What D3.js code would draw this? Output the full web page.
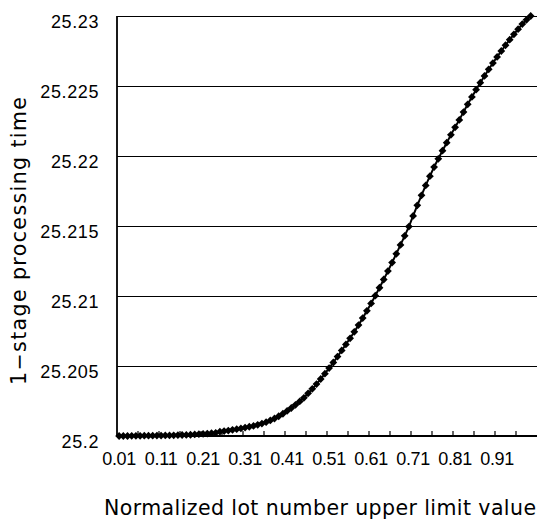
<!DOCTYPE html>
<html>
<head>
<meta charset="utf-8">
<script src="https://cdn.jsdelivr.net/npm/d3@7"></script>
<style>
  html, body { margin: 0; padding: 0; background: #fff; }
  svg { display: block; }
</style>
</head>
<body>
<script>
// Category axis: normalized lot number upper limit, 0.01 .. 1.00
const categories = [
  "0.01","0.02","0.03","0.04","0.05","0.06","0.07","0.08","0.09","0.10",
  "0.11","0.12","0.13","0.14","0.15","0.16","0.17","0.18","0.19","0.20",
  "0.21","0.22","0.23","0.24","0.25","0.26","0.27","0.28","0.29","0.30",
  "0.31","0.32","0.33","0.34","0.35","0.36","0.37","0.38","0.39","0.40",
  "0.41","0.42","0.43","0.44","0.45","0.46","0.47","0.48","0.49","0.50",
  "0.51","0.52","0.53","0.54","0.55","0.56","0.57","0.58","0.59","0.60",
  "0.61","0.62","0.63","0.64","0.65","0.66","0.67","0.68","0.69","0.70",
  "0.71","0.72","0.73","0.74","0.75","0.76","0.77","0.78","0.79","0.80",
  "0.81","0.82","0.83","0.84","0.85","0.86","0.87","0.88","0.89","0.90",
  "0.91","0.92","0.93","0.94","0.95","0.96","0.97","0.98","0.99","1.00"
];

// 1-stage processing time for each upper limit value (0.01 .. 0.99)
const processingTime = [
  25.20000, 25.20000, 25.20000, 25.20001, 25.20001, 25.20001, 25.20002, 25.20002, 25.20002, 25.20003,
  25.20003, 25.20004, 25.20004, 25.20005, 25.20006, 25.20007, 25.20008, 25.20009, 25.20011, 25.20013,
  25.20015, 25.20017, 25.20020, 25.20023, 25.20031, 25.20035, 25.20039, 25.20044, 25.20049, 25.20054,
  25.20060, 25.20066, 25.20072, 25.20080, 25.20089, 25.20099, 25.20111, 25.20125, 25.20141, 25.20159,
  25.20179, 25.20200, 25.20223, 25.20247, 25.20273, 25.20305, 25.20337, 25.20371, 25.20407, 25.20445,
  25.20485, 25.20525, 25.20567, 25.20611, 25.20654, 25.20698, 25.20744, 25.20792, 25.20842, 25.20894,
  25.20947, 25.21002, 25.21059, 25.21118, 25.21178, 25.21239, 25.21301, 25.21365, 25.21430, 25.21496,
  25.21572, 25.21648, 25.21719, 25.21790, 25.21856, 25.21921, 25.21980, 25.22038, 25.22095, 25.22151,
  25.22205, 25.22258, 25.22314, 25.22369, 25.22422, 25.22474, 25.22524, 25.22572, 25.22619, 25.22664,
  25.22708, 25.22750, 25.22791, 25.22831, 25.22869, 25.22906, 25.22942, 25.22973, 25.23000
];

const yTicks = [25.2, 25.205, 25.21, 25.215, 25.22, 25.225, 25.23];
const yTickLabels = ["25.2", "25.205", "25.21", "25.215", "25.22", "25.225", "25.23"];
const xTickLabels = ["0.01", "0.11", "0.21", "0.31", "0.41", "0.51", "0.61", "0.71", "0.81", "0.91"];

const xTitle = "Normalized lot number upper limit value";
const yTitle = "1\u2212stage processing time";

const W = 538, H = 524;
const plot = { left: 117, right: 537, top: 16, bottom: 436 };
const numFont = "'Liberation Sans', Arial, sans-serif";
const titleFont = "'DejaVu Sans', Verdana, sans-serif";

const svg = d3.select("body").append("svg")
  .attr("width", W).attr("height", H);

const x = d3.scaleBand().domain(categories).range([plot.left, plot.right]);
const y = d3.scaleLinear().domain([25.2, 25.23]).range([plot.bottom, plot.top]);
const cx = d => x(d) + x.bandwidth() / 2;

// horizontal gridlines
svg.append("g").selectAll("line")
  .data(yTicks.slice(1))
  .join("line")
  .attr("x1", plot.left).attr("x2", plot.right)
  .attr("y1", d => Math.round(y(d)) + 0.5).attr("y2", d => Math.round(y(d)) + 0.5)
  .attr("stroke", "#000").attr("stroke-width", 1.2);

// value axis labels
const yAxis = svg.append("g")
  .attr("transform", `translate(${plot.left},0)`)
  .call(d3.axisLeft(y).tickValues(yTicks)
    .tickFormat((d, i) => yTickLabels[i])
    .tickSize(0).tickPadding(18));
yAxis.select(".domain").remove();
yAxis.selectAll("text")
  .attr("dy", "0.62em")
  .style("font-family", numFont).style("font-size", "18px")
  .style("letter-spacing", "0.6px").style("fill", "#000");

// category axis labels (every 10th category)
const xAxis = svg.append("g")
  .attr("transform", `translate(0,${plot.bottom})`)
  .call(d3.axisBottom(x).tickValues(xTickLabels)
    .tickSize(0).tickPadding(0));
xAxis.select(".domain").remove();
xAxis.selectAll("text")
  .attr("y", 29).attr("dy", 0)
  .style("font-family", numFont).style("font-size", "18px")
  .style("letter-spacing", "-0.3px").style("fill", "#000");

// category tick marks every 5 categories, inside the plot
svg.append("g").selectAll("line")
  .data(categories.filter((d, i) => i > 0 && i % 5 === 0))
  .join("line")
  .attr("x1", d => x(d)).attr("x2", d => x(d))
  .attr("y1", plot.bottom).attr("y2", plot.bottom - 5)
  .attr("stroke", "#000").attr("stroke-width", 1.2);

// axis lines
svg.append("line")
  .attr("x1", plot.left).attr("x2", plot.right)
  .attr("y1", plot.bottom).attr("y2", plot.bottom)
  .attr("stroke", "#000").attr("stroke-width", 1.8);
svg.append("line")
  .attr("x1", plot.left).attr("x2", plot.left)
  .attr("y1", plot.top).attr("y2", plot.bottom)
  .attr("stroke", "#000").attr("stroke-width", 1.8);

// series line and diamond markers
const pts = processingTime.map((v, i) => ({ c: categories[i], v }));
svg.append("path")
  .datum(pts)
  .attr("fill", "none").attr("stroke", "#000").attr("stroke-width", 2)
  .attr("d", d3.line().x(d => cx(d.c)).y(d => y(d.v)));

const r = 3.9;
svg.append("g").selectAll("path")
  .data(pts)
  .join("path")
  .attr("transform", d => `translate(${cx(d.c)},${y(d.v)})`)
  .attr("d", `M0,${-r}L${r},0L0,${r}L${-r},0Z`)
  .attr("fill", "#000");

// axis titles
svg.append("text")
  .attr("x", 320).attr("y", 515)
  .attr("text-anchor", "middle")
  .style("font-family", titleFont).style("font-size", "20.5px").style("fill", "#000")
  .attr("textLength", 432).attr("lengthAdjust", "spacing")
  .text(xTitle);

svg.append("text")
  .attr("transform", "translate(26,241) rotate(-90)")
  .attr("text-anchor", "middle")
  .style("font-family", titleFont).style("font-size", "20.5px").style("fill", "#000")
  .attr("textLength", 288).attr("lengthAdjust", "spacing")
  .text(yTitle);
</script>
</body>
</html>
